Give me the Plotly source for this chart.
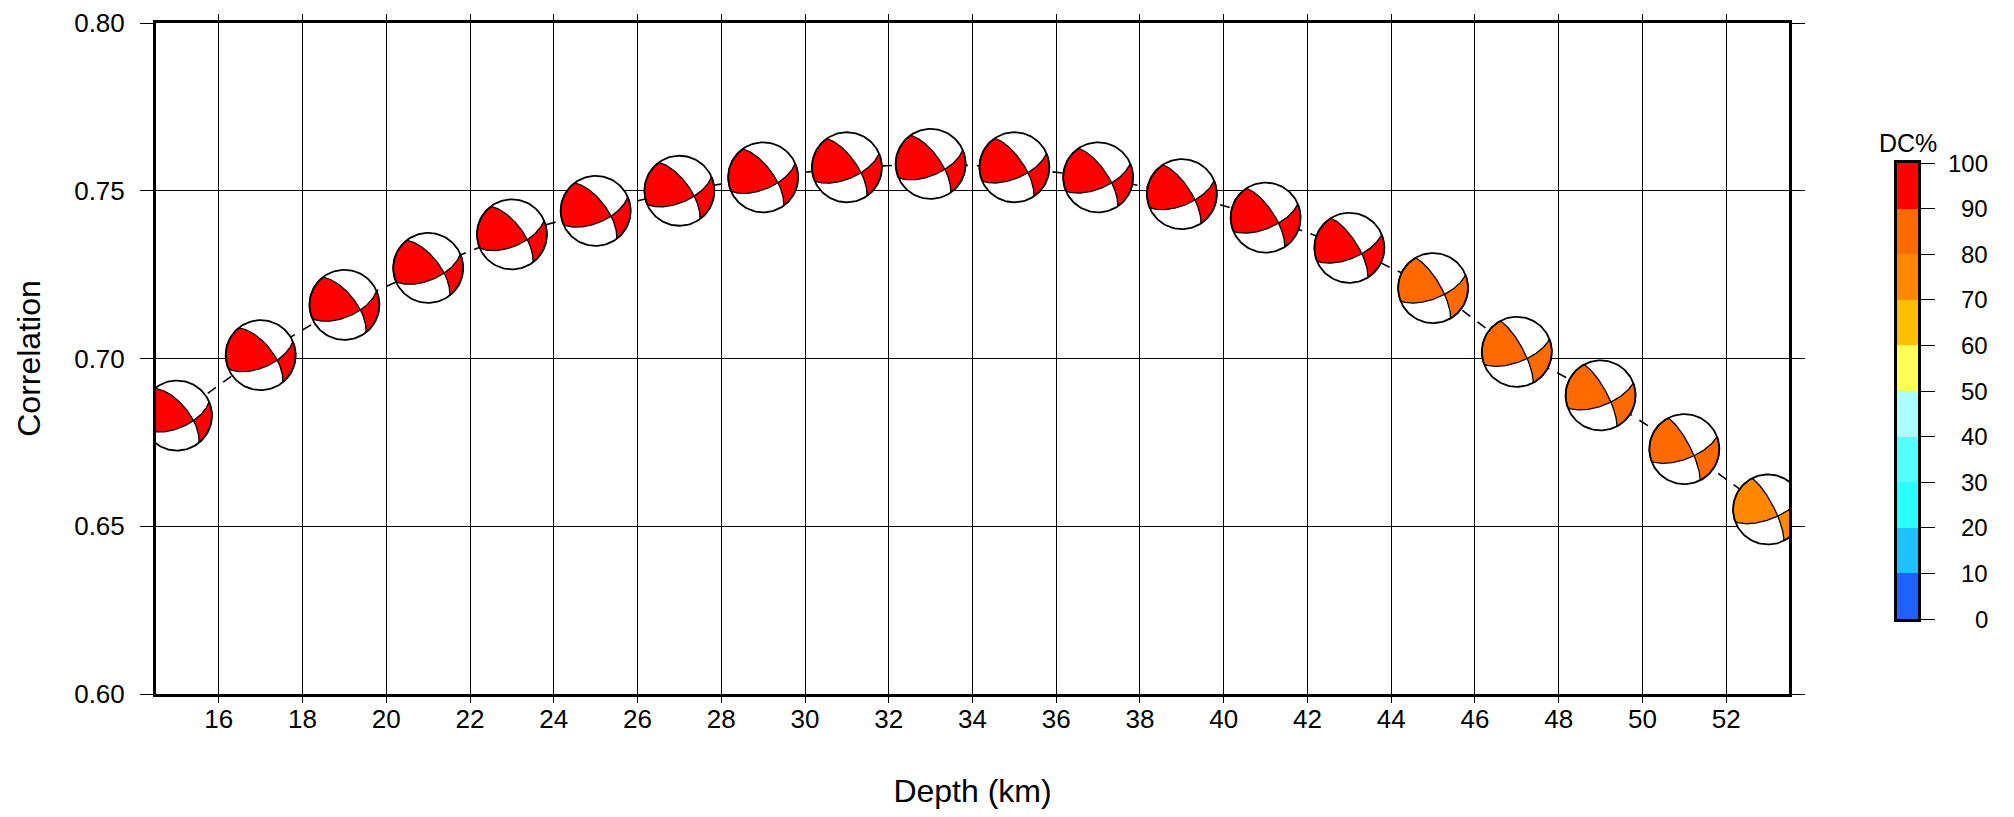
import numpy as np
import plotly.graph_objects as go

# ---------------- data ----------------
depth = [15, 17, 19, 21, 23, 25, 27, 29, 31, 33, 35, 37, 39, 41, 43, 45, 47, 49, 51, 53]
corr = [0.683, 0.701, 0.716, 0.727, 0.737, 0.744, 0.750, 0.754, 0.757, 0.758,
        0.757, 0.754, 0.749, 0.742, 0.733, 0.721, 0.702, 0.689, 0.673, 0.655]
dc_pct = [95, 95, 95, 95, 95, 95, 95, 95, 95, 95, 95, 95, 95, 95, 95, 85, 85, 85, 85, 75]
strike = [321, 321, 322, 322, 323, 323, 324, 324, 325, 325, 326, 326, 327, 327, 328, 330, 332, 332, 333, 333]
dip = [64, 64, 65, 65, 66, 66, 67, 67, 68, 68, 69, 69, 70, 70, 71, 73, 75, 75, 76, 76]
rake = [147, 147, 148, 148, 149, 149, 150, 150, 151, 151, 152, 152, 152, 153, 153, 154, 155, 155, 156, 156]

dc_ticks = [0, 10, 20, 30, 40, 50, 60, 70, 80, 90, 100]
dc_colors = ['#2060ff', '#20c0ff', '#2affff', '#55ffff', '#aaffff',
             '#ffff55', '#ffbf00', '#ff8800', '#ff6a00', '#ff0000']
x_ticks = list(range(16, 53, 2))
y_ticks = [0.60, 0.65, 0.70, 0.75, 0.80]

# ---------------- layout geometry ----------------
# the page body has an 8px margin, so the figure is 16px smaller than the window
OFF = 8
W, H = 2014 - 2 * OFF, 817 - 2 * OFF
ML, MR, MT, MB = 156 - OFF, 6, 23 - OFF, 115
PW, PH = W - ML - MR, H - MT - MB
X_RANGE = [14.5, 53.5]
Y_RANGE = [0.60, 0.80]
MAIN_PX = 1633
x_dom = [0, MAIN_PX / PW]
BALL_R = 35.0  # px
rx = BALL_R * (X_RANGE[1] - X_RANGE[0]) / MAIN_PX
ry = BALL_R * (Y_RANGE[1] - Y_RANGE[0]) / PH

FONT = "Liberation Sans, Arial, Helvetica, sans-serif"


def px_x(page_x):
    return (page_x - OFF - ML) / PW


def px_y(page_y):
    return (MT + PH - (page_y - OFF)) / PH


def project(p):
    N, E, D = p
    D = max(D, 0.0)
    r = np.sqrt(max(0.0, 1.0 - D))
    hz = np.hypot(N, E)
    if hz < 1e-12:
        return 0.0, 0.0
    return r * E / hz, r * N / hz


def beach_polys(stk, dp, rk, n=60):
    phi, dl, lam = np.radians([stk, dp, rk])
    nv = np.array([-np.sin(dl) * np.sin(phi), np.sin(dl) * np.cos(phi), -np.cos(dl)])
    dv = np.array([np.cos(lam) * np.cos(phi) + np.cos(dl) * np.sin(lam) * np.sin(phi),
                   np.cos(lam) * np.sin(phi) - np.cos(dl) * np.sin(lam) * np.cos(phi),
                   -np.sin(lam) * np.sin(dl)])
    B = np.cross(nv, dv)
    B /= np.linalg.norm(B)
    if B[2] < 0:
        B = -B
    curves = []
    for v in (nv, dv):
        h = np.cross(v, [0, 0, 1.0])
        h /= np.linalg.norm(h)
        w = np.cross(v, h)
        w /= np.linalg.norm(w)
        if w[2] < 0:
            w = -w
        tB = np.arctan2(B @ w, B @ h)
        curves.append((h, w, tB))
    ends = []
    for ci, (h, w, tB) in enumerate(curves):
        for te in (0.0, np.pi):
            p = np.cos(te) * h + np.sin(te) * w
            az = np.arctan2(p[1], p[0]) % (2 * np.pi)
            ends.append((az, ci, te))
    ends.sort()
    polys = []
    for i in range(4):
        az0, c0, t0 = ends[i]
        az1, c1, t1 = ends[(i + 1) % 4]
        if az1 <= az0:
            az1 += 2 * np.pi
        azm = 0.5 * (az0 + az1)
        g = np.array([np.cos(azm), np.sin(azm), 0.0])
        if (g @ nv) * (g @ dv) <= 0:
            continue
        pts = []
        h, w, tB = curves[c0]
        for t in np.linspace(tB, t0, n):
            pts.append(np.cos(t) * h + np.sin(t) * w)
        for a in np.linspace(az0, az1, n):
            pts.append(np.array([np.cos(a), np.sin(a), 0.0]))
        h, w, tB = curves[c1]
        for t in np.linspace(t1, tB, n):
            pts.append(np.cos(t) * h + np.sin(t) * w)
        xy = [project(p) for p in pts]
        polys.append(([q[0] for q in xy], [q[1] for q in xy]))
    return polys


def dc_color(v):
    i = int(min(max(v // 10, 0), 9))
    return dc_colors[i]


fig = go.Figure()

# dashed connecting line
fig.add_trace(go.Scatter(x=depth, y=corr, mode="lines",
                         line=dict(color="black", width=1.6, dash="10px,9px"),
                         hoverinfo="skip", showlegend=False))

# white discs
tt = np.linspace(0, 2 * np.pi, 121)
disc_x, disc_y = [], []
for d, c in zip(depth, corr):
    disc_x += list(d + rx * np.sin(tt)) + [None]
    disc_y += list(c + ry * np.cos(tt)) + [None]
fig.add_trace(go.Scatter(x=disc_x, y=disc_y, mode="lines", fill="toself",
                         fillcolor="white", line=dict(width=0, color="white"),
                         hoverinfo="skip", showlegend=False))

# compressional quadrants grouped by colour
groups = {}
for d, c, v, s, dp, rk in zip(depth, corr, dc_pct, strike, dip, rake):
    col = dc_color(v)
    gx, gy = groups.setdefault(col, ([], []))
    for px, py in beach_polys(s, dp, rk):
        gx += [d + rx * q for q in px] + [None]
        gy += [c + ry * q for q in py] + [None]
for col, (gx, gy) in groups.items():
    fig.add_trace(go.Scatter(x=gx, y=gy, mode="lines", fill="toself",
                             fillcolor=col, line=dict(width=1.3, color="black"),
                             hoverinfo="skip", showlegend=False))

# ball outlines
fig.add_trace(go.Scatter(x=disc_x, y=disc_y, mode="lines",
                         line=dict(width=1.8, color="black"),
                         hoverinfo="skip", showlegend=False))

# colour bar drawn as a heatmap on its own axes
cs = []
for i, col in enumerate(dc_colors):
    cs += [[i / 10, col], [(i + 1) / 10, col]]
mids = [5 + 10 * i for i in range(10)]
fig.add_trace(go.Heatmap(x=[0], y=mids, z=[[m] for m in mids], zmin=0, zmax=100,
                         colorscale=cs, showscale=False, xaxis="x2", yaxis="y2",
                         hoverinfo="skip"))

axis_font = dict(family=FONT, size=26, color="black")
fig.update_layout(
    width=W, height=H, margin=dict(l=ML, r=MR, t=MT, b=MB, pad=0),
    paper_bgcolor="white", plot_bgcolor="white", showlegend=False,
    xaxis=dict(domain=x_dom, range=X_RANGE, tickvals=x_ticks, ticks="outside",
               ticklen=6, tickwidth=1.2, tickcolor="black", showgrid=True,
               gridcolor="black", gridwidth=1, zeroline=False, showline=True,
               linewidth=3, linecolor="black", mirror="ticks", tickfont=axis_font,
               ticklabelstandoff=-6,
               title=dict(text="Depth (km)", font=dict(family=FONT, size=32, color="black"),
                          standoff=50), automargin=False),
    yaxis=dict(range=Y_RANGE, tickvals=y_ticks, tickformat=".2f", ticks="outside",
               ticklen=13, tickwidth=1.2, tickcolor="black", showgrid=True,
               gridcolor="black", gridwidth=1, zeroline=False, showline=True,
               linewidth=3, linecolor="black", mirror="ticks", tickfont=axis_font,
               ticklabelstandoff=10,
               title=dict(text="Correlation", font=dict(family=FONT, size=32, color="black"),
                          standoff=24), automargin=False),
    xaxis2=dict(domain=[px_x(1897), px_x(1918)], range=[-0.5, 0.5],
                anchor="y2", showticklabels=False, ticks="", showgrid=False,
                zeroline=False, showline=True, linewidth=3, linecolor="black", mirror=True),
    yaxis2=dict(domain=[px_y(619), px_y(163)], range=[0, 100],
                anchor="x2", side="right", tickvals=dc_ticks, ticks="outside", ticklen=14,
                tickwidth=1.2, tickcolor="black", showticklabels=False, showgrid=False,
                zeroline=False, showline=True, linewidth=3, linecolor="black", mirror=True),
)

for v in dc_ticks:
    fig.add_annotation(x=px_x(1990), xref="paper", y=v, yref="y2", text=str(v),
                       showarrow=False, xanchor="right", yanchor="middle",
                       font=dict(family=FONT, size=24, color="black"))
fig.add_annotation(x=px_x(1907.5), xref="paper", y=px_y(143), yref="paper",
                   text="DC%", showarrow=False, xanchor="center", yanchor="middle",
                   font=dict(family=FONT, size=25, color="black"))

fig.write_html("out.html")
